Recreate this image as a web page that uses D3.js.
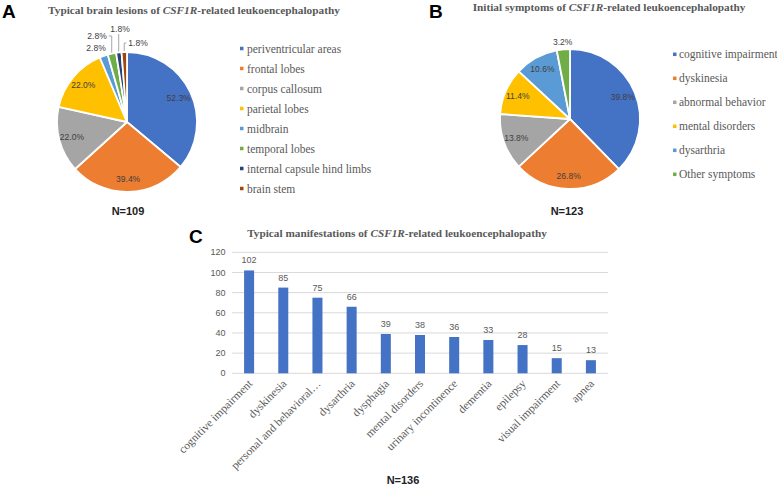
<!DOCTYPE html>
<html><head><meta charset="utf-8">
<script src="https://cdn.jsdelivr.net/npm/d3@7"></script>
<style>body{margin:0;background:#fff}svg{display:block}</style></head><body>
<svg id="c" width="777" height="485"></svg>
<script>
// ---------- DATA ----------
const lesionCats = ["periventricular areas","frontal lobes","corpus callosum","parietal lobes","midbrain","temporal lobes","internal capsule hind limbs","brain stem"];
const lesionVals = [52.3,39.4,22.0,22.0,2.8,2.8,1.8,1.8];
const symptomCats = ["cognitive impairment","dyskinesia","abnormal behavior","mental disorders","dysarthria","Other symptoms"];
const symptomVals = [39.8,26.8,13.8,11.4,10.6,3.2];
const manifestCats = ["cognitive impairment","dyskinesia","personal and behavioral…","dysarthria","dysphagia","mental disorders","urinary incontinence","dementia","epilepsy","visual impairment","apnea"];
const manifestVals = [102,85,75,66,39,38,36,33,28,15,13];
const yTicks = [0,20,40,60,80,100,120];
const palette = ["#4472C4","#ED7D31","#A5A5A5","#FFC000","#5B9BD5","#70AD47","#264478","#9E480E"];

// ---------- LAYOUT ----------
const SERIF = "'Liberation Serif','Times New Roman',serif";
const SANS = "'Liberation Sans',Arial,sans-serif";
const GRAY = "#595959";
// outside-label offsets (relative to pie centre) for the small slices of pie A
const lesionOutside = [null,null,null,null,{dx:-31,dy:-74,leader:false},{dx:-30,dy:-86,leader:true},{dx:-7,dy:-93,leader:true},{dx:11,dy:-79,leader:true}];

const svg = d3.select("#c");

function title(x, y, targetW, pre, ital, post){
  const t = svg.append("text").attr("x",x).attr("y",y).attr("text-anchor","middle")
    .attr("font-family",SERIF).attr("font-weight","bold").attr("font-size",11).attr("fill",GRAY);
  t.append("tspan").text(pre);
  t.append("tspan").attr("font-style","italic").text(ital);
  t.append("tspan").text(post);
  const w = t.node().getComputedTextLength();
  t.attr("font-size", 11*targetW/w);
}
function panelLetter(x,y,s){
  svg.append("text").attr("x",x).attr("y",y).attr("font-family",SANS).attr("font-weight","bold")
    .attr("font-size",19).attr("fill","#000").text(s);
}
function nLabel(x,y,s){
  svg.append("text").attr("x",x).attr("y",y).attr("text-anchor","middle").attr("font-family",SANS)
    .attr("font-weight","bold").attr("font-size",11).attr("fill","#222").text(s);
}

function drawPie(cx, cy, r, cats, vals, outside, legend){
  const g = svg.append("g").attr("transform",`translate(${cx},${cy})`);
  const pie = d3.pie().sort(null).value(d=>d)(vals);
  const arc = d3.arc().innerRadius(0).outerRadius(r);
  g.selectAll("path.s").data(pie).join("path").attr("class","s")
    .attr("d",arc).attr("fill",(d,i)=>palette[i]).attr("stroke","#fff").attr("stroke-width",1.8).attr("stroke-linejoin","round");
  const labArc = d3.arc().innerRadius(57).outerRadius(57);
  pie.forEach((d,i)=>{
    const txt = d.data.toFixed(1)+"%";
    if (d.data > 5){
      const [x,y] = labArc.centroid(d);
      g.append("text").attr("x",x).attr("y",y).attr("dy","0.35em").attr("text-anchor","middle")
        .attr("font-family",SANS).attr("font-size",8.5).attr("fill","#404040").text(txt);
    } else {
      const mid = (d.startAngle+d.endAngle)/2;
      let lx, ly, o = outside && outside[i];
      if (o){ lx=o.dx; ly=o.dy; } else { lx = Math.sin(mid)*(r+7); ly = -Math.cos(mid)*(r+7); }
      const t = g.append("text").attr("x",lx).attr("y",ly).attr("dy","0.35em").attr("text-anchor","middle")
        .attr("font-family",SANS).attr("font-size",8.5).attr("fill","#404040").text(txt);
      if (o && o.leader){
        const w = t.node().getComputedTextLength();
        const ox = Math.sin(mid)*(r+1), oy = -Math.cos(mid)*(r+1);
        let pts;
        if (ox > lx + w/2) pts = [[lx+w/2+2,ly],[ox,ly],[ox,oy]];
        else if (ox < lx - w/2) pts = [[lx-w/2-2,ly],[ox,ly],[ox,oy]];
        else pts = [[ox,ly+5],[ox,oy]];
        g.append("path").attr("d",d3.line()(pts)).attr("fill","none").attr("stroke","#a6a6a6").attr("stroke-width",1);
      }
    }
  });
  // legend
  const lg = svg.append("g");
  cats.forEach((c,i)=>{
    const y = legend.y0 + i*legend.dy;
    lg.append("rect").attr("x",legend.mx).attr("y",y-1.75).attr("width",3.5).attr("height",3.5).attr("fill",palette[i]);
    lg.append("text").attr("x",legend.tx).attr("y",y).attr("dy","0.35em").attr("font-family",SERIF)
      .attr("font-size",11.5).attr("fill",GRAY).text(c);
  });
}

// Panel A
panelLetter(2,18,"A");
title(194,14,292,"Typical brain lesions of ","CSF1R","-related leukoencephalopathy");
drawPie(127,122,70,lesionCats,lesionVals,lesionOutside,{y0:48.5,dy:20,mx:240,tx:247});
nLabel(128,215,"N=109");

// Panel B
panelLetter(429,18,"B");
title(609,11,273,"Initial symptoms of ","CSF1R","-related leukoencephalopathy");
drawPie(570,119,70,symptomCats,symptomVals,null,{y0:54.3,dy:24,mx:673,tx:679});
nLabel(567,215,"N=123");

// Panel C : bar chart
panelLetter(189,243,"C");
title(397,237,300,"Typical manifestations of ","CSF1R","-related leukoencephalopathy");
const x = d3.scaleBand().domain(manifestCats).range([232,608]).paddingInner(0.707).paddingOuter(0.3535);
const y = d3.scaleLinear().domain([0,120]).range([373.3,252.3]);
const gc = svg.append("g");
gc.selectAll("line.g").data(yTicks).join("line").attr("class","g")
  .attr("x1",232).attr("x2",608).attr("y1",d=>y(d)).attr("y2",d=>y(d)).attr("stroke","#d9d9d9").attr("stroke-width",1);
gc.selectAll("text.yt").data(yTicks).join("text").attr("class","yt")
  .attr("x",225.5).attr("y",d=>y(d)).attr("dy","0.35em").attr("text-anchor","end")
  .attr("font-family",SANS).attr("font-size",9).attr("fill",GRAY).text(d=>d);
gc.selectAll("rect.b").data(manifestVals).join("rect").attr("class","b")
  .attr("x",(d,i)=>x(manifestCats[i])).attr("width",x.bandwidth())
  .attr("y",d=>y(d)).attr("height",d=>y(0)-y(d)).attr("fill","#4472C4");
gc.selectAll("text.v").data(manifestVals).join("text").attr("class","v")
  .attr("x",(d,i)=>x(manifestCats[i])+x.bandwidth()/2).attr("y",d=>y(d)-7)
  .attr("text-anchor","middle").attr("font-family",SANS).attr("font-size",9).attr("fill",GRAY).text(d=>d);
gc.selectAll("text.xl").data(manifestCats).join("text").attr("class","xl")
  .attr("transform",d=>`translate(${x(d)+x.bandwidth()/2+4},${y(0)+11}) rotate(-45)`)
  .attr("text-anchor","end").attr("font-family",SERIF).attr("font-size",11.5).attr("fill",GRAY).text(d=>d);
nLabel(403,484,"N=136");
</script></body></html>
